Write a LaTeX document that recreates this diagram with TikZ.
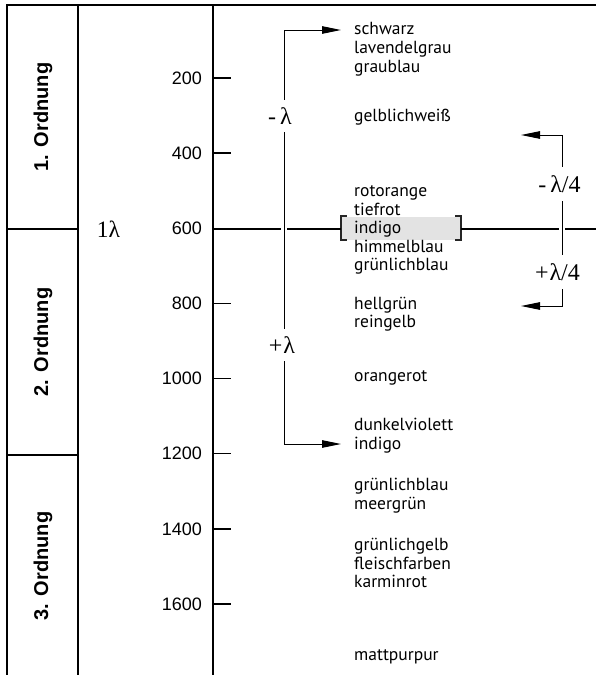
\documentclass[tikz,border=0pt]{standalone}
\usepackage{fontspec}
\setmainfont{Liberation Sans}
\newfontfamily\colourfont{PT Sans}
\newfontfamily\lambdafont{Liberation Serif}
\usetikzlibrary{arrows.meta,positioning}
\tikzset{
    scale frame/.style={line width=1.5pt, draw=black},
    scale tick/.style={line width=1.5pt, draw=black},
    order label/.style={
        rotate=90,
        inner sep=0pt,
        font=\fontsize{20}{22}\selectfont\bfseries
    },
    tick label/.style={anchor=east, inner sep=0pt, font=\fontsize{18}{20}\selectfont},
    colour name/.style={anchor=base west, inner sep=0pt, font=\colourfont\fontsize{17.5}{19}\selectfont},
    colour mark/.style={draw=none, fill=black!11, minimum width=120pt, minimum height=23pt, inner sep=0pt},
    colour bracket/.style={line width=2pt, draw=black!85},
    shift label/.style={fill=white, inner xsep=1pt, inner ysep=8pt, font=\lambdafont\fontsize{24}{26}\selectfont},
    shift arrow/.style={{Triangle[length=19pt,width=7.5pt]}-{Triangle[length=19pt,width=7.5pt]}, line width=1pt, draw=black}
}

\begin{document}
\begin{tikzpicture}[x=1pt, y=-1pt]
\useasboundingbox (0,0) rectangle (596,675);

% frame and order columns
\draw[scale frame] (7,675) -- (7,5) -- (596,5);
\draw[scale frame] (78,5) -- (78,675);
\draw[scale frame] (213,5) -- (213,675);
\draw[scale frame] (7,229) -- (78,229);
\draw[scale frame] (7,455) -- (78,455);

\node[order label] (ord1) at (43,117) {1. Ordnung};
\node[order label] (ord2) at (43,342) {2. Ordnung};
\node[order label] (ord3) at (43,566) {3. Ordnung};

\node[font=\lambdafont\fontsize{23.5}{26}\selectfont, inner sep=0pt] (onelam) at (108.5,229) {1λ};

% wavelength scale
\draw[scale tick] (213,78) -- (231,78);
\draw[scale tick] (213,153) -- (231,153);
\draw[scale tick] (213,303.4) -- (231,303.4);
\draw[scale tick] (213,378.6) -- (231,378.6);
\draw[scale tick] (213,453.7) -- (231,453.7);
\draw[scale tick] (213,528.8) -- (231,528.8);
\draw[scale tick] (213,604) -- (231,604);

\node[tick label] (n200) at (202,78) {200};
\node[tick label] (n400) at (202,153) {400};
\node[tick label] (n600) at (202,228.5) {600};
\node[tick label] (n800) at (202,303.4) {800};
\node[tick label] (n1000) at (202,378.6) {1000};
\node[tick label] (n1200) at (202,453.7) {1200};
\node[tick label] (n1400) at (202,528.8) {1400};
\node[tick label] (n1600) at (202,604) {1600};

% highlighted indigo at 600
\node[colour mark] (mark) at (401,228) {};
\draw[colour bracket] ([xshift=6pt]mark.north west) -- (mark.north west) -- (mark.south west) -- ([xshift=6pt]mark.south west);
\draw[colour bracket] ([xshift=-6pt]mark.north east) -- (mark.north east) -- (mark.south east) -- ([xshift=-6pt]mark.south east);

\coordinate (lamcross) at (284,229);
\coordinate (qcross) at (562,229);
\draw[scale frame] (213,229) -- ([xshift=-3pt]lamcross);
\draw[scale frame] ([xshift=3pt]lamcross) -- (mark.west |- lamcross);
\draw[scale frame] (mark.east |- qcross) -- ([xshift=-3pt]qcross);
\draw[scale frame] ([xshift=3pt]qcross) -- (596,229);

% interference colours
\node[colour name] (schwarz) at (354,34.3) {schwarz};
\node[colour name] (lavendel) at (354,53.3) {lavendelgrau};
\node[colour name] (graublau) at (354,72.5) {graublau};
\node[colour name] (gelbweiss) at (354,121.7) {gelblichweiß};
\node[colour name] (rotorange) at (354,196.7) {rotorange};
\node[colour name] (tiefrot) at (354,215) {tiefrot};
\node[colour name] (indigoa) at (354,233.5) {indigo};
\node[colour name] (himmel) at (354,252.5) {himmelblau};
\node[colour name] (gruenblaua) at (354,270.7) {grünlichblau};
\node[colour name] (hellgruen) at (354,309.3) {hellgrün};
\node[colour name] (reingelb) at (354,327.5) {reingelb};
\node[colour name] (orangerot) at (354,381) {orangerot};
\node[colour name] (dunkel) at (354,430) {dunkelviolett};
\node[colour name] (indigob) at (354,449) {indigo};
\node[colour name] (gruenblaub) at (354,490.7) {grünlichblau};
\node[colour name] (meergruen) at (354,509) {meergrün};
\node[colour name] (gruengelb) at (354,550.7) {grünlichgelb};
\node[colour name] (fleisch) at (354,569.3) {fleischfarben};
\node[colour name] (karmin) at (354,587.7) {karminrot};
\node[colour name] (matt) at (354,660) {mattpurpur};

% full wavelength shift
\coordinate (lamtop) at (284,30);
\coordinate (lambot) at (284,444);
\draw[shift arrow, shorten <=13pt, shorten >=13pt] (lamtop -| schwarz.west) -- (lamtop) -- (lambot) -- (lambot -| indigob.west);
\node[shift label] (minuslam) at (280,116) {-\kern4pt λ};
\node[shift label] (pluslam) at (282,345) {+\kern1pt λ};

% quarter wavelength shift
\coordinate (qtop) at (562,135);
\coordinate (qbot) at (562,306);
\coordinate (qtoptip) at (521,135);
\coordinate (qbottip) at (521,306);
\draw[shift arrow] (qtoptip) -- (qtop) -- (qbot) -- (qbottip);
\node[shift label] (minusq) at (559.5,184) {-\kern4pt λ/4};
\node[shift label] (plusq) at (557.5,272) {+\kern1pt λ/4};
\end{tikzpicture}
\end{document}
